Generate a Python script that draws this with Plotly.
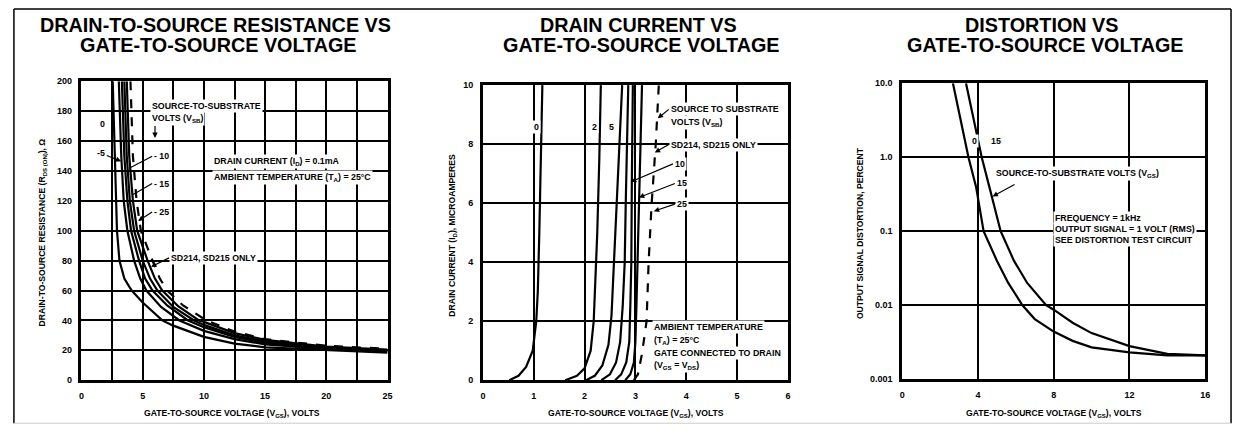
import plotly.graph_objects as go

W, H = 1241, 437
FONT = "Liberation Sans, Arial, DejaVu Sans, sans-serif"

# ---------------- Panel 1: R_DS(ON) vs V_GS ----------------
p1_labels = ["0", "-5", "- 10", "- 15", "- 25"]
p1_vgs_0 = [2.55, 2.7, 2.8, 2.9, 3.1, 3.5, 4.1, 5.0, 6.6, 7.5, 10, 12.5, 15, 20, 25]
p1_rds_0 = [200, 150, 120, 100, 80, 68, 60, 52, 40, 36.5, 29, 24.5, 22, 20, 18.5]
p1_vgs_5 = [3.05, 3.25, 3.45, 3.75, 4.3, 4.8, 5.3, 6.5, 8.0, 10, 12.5, 15, 20, 25]
p1_rds_5 = [200, 150, 120, 100, 80, 68, 60, 49, 40, 33, 27.5, 24, 21, 19]
p1_vgs_10 = [3.3, 3.5, 3.75, 4.05, 4.7, 5.2, 5.8, 7.0, 8.7, 10, 12.5, 15, 20, 25]
p1_rds_10 = [200, 150, 120, 100, 80, 68, 60, 50, 40, 35.5, 29, 25, 21.5, 19.5]
p1_vgs_15 = [3.5, 3.7, 3.95, 4.3, 5.0, 5.6, 6.2, 7.5, 9.2, 10, 12.5, 15, 20, 25]
p1_rds_15 = [200, 150, 120, 100, 80, 68, 60, 49, 40, 37, 30, 26, 22, 20]
p1_vgs_25 = [3.7, 3.9, 4.2, 4.55, 5.4, 6.0, 6.6, 7.9, 9.6, 10, 12.5, 15, 20, 25]
p1_rds_25 = [200, 150, 120, 100, 80, 68, 60, 49.5, 40, 39, 31.5, 27, 22.5, 20.5]
p1_vgs_sd = [4.0, 4.2, 4.5, 4.85, 5.8, 6.4, 7.0, 8.3, 10.2, 12.5, 15, 20, 25]
p1_rds_sd = [200, 150, 120, 100, 80, 68, 60, 50, 40, 32.5, 27.5, 23, 21]
p1_xticks = [0, 5, 10, 15, 20, 25]
p1_yticks = [0, 20, 40, 60, 80, 100, 120, 140, 160, 180, 200]

# ---------------- Panel 2: I_D vs V_GS ----------------
p2_labels = ["0", "2", "5", "10", "15", "25"]
p2_vgs_0 = [0.52, 0.7, 0.85, 0.98, 1.05, 1.08, 1.11, 1.14, 1.17]
p2_id_0 = [0, 0.15, 0.45, 1.0, 2, 3, 5, 7.5, 10]
p2_vgs_2 = [1.62, 1.85, 2.0, 2.12, 2.18, 2.22, 2.25, 2.29, 2.32]
p2_id_2 = [0, 0.15, 0.4, 1.0, 2, 3.5, 5, 7.5, 10]
p2_vgs_5 = [2.03, 2.2, 2.35, 2.47, 2.53, 2.58, 2.63, 2.69, 2.74]
p2_id_5 = [0, 0.15, 0.5, 1.2, 2.2, 4, 6, 8, 10]
p2_vgs_7 = [2.33, 2.5, 2.62, 2.7, 2.75, 2.79, 2.81, 2.84, 2.86]
p2_id_7 = [0, 0.2, 0.6, 1.3, 2.5, 4, 6, 8, 10]
p2_vgs_10 = [2.6, 2.72, 2.82, 2.88, 2.9, 2.92, 2.93, 2.94, 2.95]
p2_id_10 = [0, 0.2, 0.6, 1.3, 2.5, 4, 6.7, 8, 10]
p2_vgs_15 = [2.8, 2.9, 2.97, 3.0, 3.02, 3.04, 3.07, 3.1, 3.13]
p2_id_15 = [0, 0.2, 0.6, 1.3, 2.5, 4, 6.2, 8, 10]
p2_vgs_25 = [2.97, 3.05, 3.13, 3.22, 3.26, 3.32, 3.4, 3.46]
p2_id_25 = [0, 0.2, 0.9, 2, 4, 6, 8, 10]
p2_xticks = [0, 1, 2, 3, 4, 5, 6]
p2_yticks = [0, 2, 4, 6, 8, 10]

# ---------------- Panel 3: Distortion vs V_GS ----------------
p3_labels = ["0", "15"]
p3_vgs_0 = [2.68, 3.0, 3.5, 3.9, 4.3, 5.0, 5.6, 6.35, 7.0, 8, 9, 10, 12, 14, 16]
p3_dist_0 = [10, 4, 1.0, 0.4, 0.1, 0.04, 0.02, 0.01, 0.0065, 0.0044, 0.0033, 0.0027, 0.0023, 0.0021, 0.0021]
p3_vgs_15 = [3.37, 3.7, 4.2, 4.6, 5.2, 5.9, 6.6, 7.6, 8, 9, 10, 12, 14, 16]
p3_dist_15 = [10, 4, 1.0, 0.4, 0.1, 0.04, 0.02, 0.01, 0.0087, 0.0058, 0.0042, 0.0028, 0.0022, 0.0021]
p3_xticks = [0, 4, 8, 12, 16]
p3_yticks = [0.001, 0.01, 0.1, 1, 10]
p3_yticktext = ["0.001", "0.01", "0.1", "1.0", "10.0"]

fig = go.Figure()

def line(x, y, ax, dash="solid", width=2.2):
    fig.add_trace(go.Scatter(x=x, y=y, mode="lines", xaxis="x" + ax, yaxis="y" + ax,
                             line=dict(color="black", width=width, dash=dash),
                             hoverinfo="skip", showlegend=False))

for xs, ys in [(p1_vgs_0, p1_rds_0), (p1_vgs_5, p1_rds_5), (p1_vgs_10, p1_rds_10),
               (p1_vgs_15, p1_rds_15), (p1_vgs_25, p1_rds_25)]:
    line(xs, ys, "")
line(p1_vgs_sd, p1_rds_sd, "", dash="dash")

for xs, ys in [(p2_vgs_0, p2_id_0), (p2_vgs_2, p2_id_2), (p2_vgs_5, p2_id_5),
               (p2_vgs_7, p2_id_7), (p2_vgs_10, p2_id_10), (p2_vgs_15, p2_id_15)]:
    line(xs, ys, "2")
line(p2_vgs_25, p2_id_25, "2", dash="dash")

line(p3_vgs_0, p3_dist_0, "3")
line(p3_vgs_15, p3_dist_15, "3")

def dom_x(a, b):
    return [a / W, b / W]

def dom_y(top, bottom):
    return [1 - bottom / H, 1 - top / H]

tickfont = dict(family=FONT, size=9, color="black", weight="bold")
base = dict(showline=True, mirror=True, linecolor="black", linewidth=2.5,
            showgrid=True, gridcolor="black", gridwidth=1.5, zeroline=False,
            ticks="outside", ticklen=5, tickcolor="rgba(0,0,0,0)",
            tickfont=tickfont, fixedrange=True)

fig.update_layout(
    width=W, height=H, margin=dict(l=0, r=0, t=0, b=0),
    paper_bgcolor="white", plot_bgcolor="white", showlegend=False,
    xaxis=dict(base, domain=dom_x(79, 387), range=[0, 25], tickvals=p1_xticks,
               minor=dict(dtick=2.5, tick0=0, showgrid=True, gridcolor="black", gridwidth=1.5), anchor="y"),
    yaxis=dict(base, domain=dom_y(78, 384), range=[0, 200], tickvals=p1_yticks, anchor="x"),
    xaxis2=dict(base, domain=dom_x(483, 790), range=[0, 6], tickvals=p2_xticks, anchor="y2"),
    yaxis2=dict(base, domain=dom_y(82, 384), range=[0, 10], tickvals=p2_yticks, anchor="x2"),
    xaxis3=dict(base, domain=dom_x(905, 1210), range=[0, 16], tickvals=p3_xticks, anchor="y3"),
    yaxis3=dict(base, domain=dom_y(80, 383), type="log", range=[-3, 1], tickvals=p3_yticks,
                ticktext=p3_yticktext, anchor="x3"),
)

SMALL = 8.8

def txt(s, x, y, size=SMALL, xanchor="left", angle=0, bg="white"):
    fig.add_annotation(text=s, x=x / W, y=1 - y / H, xref="paper", yref="paper",
                       xanchor=xanchor, yanchor="middle", showarrow=False, textangle=angle,
                       font=dict(family=FONT, size=size, color="black", weight="bold"),
                       bgcolor=bg, borderpad=1)

def label_arrow(s, tail, tip, xanchor="left", head=2, size=SMALL):
    fig.add_annotation(text=s, x=tip[0] / W, y=1 - tip[1] / H, xref="paper", yref="paper",
                       ax=tail[0] - tip[0], ay=tail[1] - tip[1], axref="pixel", ayref="pixel",
                       xanchor=xanchor, yanchor="middle",
                       font=dict(family=FONT, size=size, color="black", weight="bold"),
                       bgcolor="white" if s else "rgba(0,0,0,0)", borderpad=1,
                       showarrow=True, arrowhead=head, arrowsize=0.9, arrowwidth=1.2,
                       arrowcolor="black", standoff=0, startstandoff=0)

def seg(x0, y0, x1, y1, color="black", w=1.2):
    fig.add_shape(type="line", xref="paper", yref="paper", x0=x0 / W, y0=1 - y0 / H,
                  x1=x1 / W, y1=1 - y1 / H, line=dict(color=color, width=w))

# Titles
for cx, l1 in [(214, "DRAIN-TO-SOURCE RESISTANCE VS"), (640, "DRAIN CURRENT VS"), (1046, "DISTORTION VS")]:
    txt(l1, cx, 20, size=19.8, xanchor="center", bg="rgba(0,0,0,0)")
    txt("GATE-TO-SOURCE VOLTAGE", cx + 3, 41, size=19.8, xanchor="center", bg="rgba(0,0,0,0)")

# Axis titles
xt = "GATE-TO-SOURCE VOLTAGE (V<sub>GS</sub>), VOLTS"
txt(xt, 230, 418, size=8.6, xanchor="center", bg="rgba(0,0,0,0)")
txt(xt, 637, 418, size=8.6, xanchor="center", bg="rgba(0,0,0,0)")
txt(xt, 1058, 418, size=8.6, xanchor="center", bg="rgba(0,0,0,0)")
txt("DRAIN-TO-SOURCE RESISTANCE (R<sub>DS (ON)</sub>), Ω", 40, 233, size=8.6, xanchor="center", angle=-90, bg="rgba(0,0,0,0)")
txt("DRAIN CURRENT (I<sub>D</sub>), MICROAMPERES", 453, 236, size=8.6, xanchor="center", angle=-90, bg="rgba(0,0,0,0)")
txt("OUTPUT SIGNAL DISTORTION, PERCENT", 862, 233, size=8.6, xanchor="center", angle=-90, bg="rgba(0,0,0,0)")

# Panel 1 annotations
txt("SOURCE-TO-SUBSTRATE", 148, 103)
txt("VOLTS (V<sub>SB</sub>)", 148, 116)
label_arrow("", (153, 124), (153, 136))
txt(p1_labels[0], 100, 122, xanchor="center")
label_arrow(p1_labels[1], (99, 152), (119, 160), xanchor="center")
label_arrow(p1_labels[2], (150, 155), (127, 167), head=0)
label_arrow(p1_labels[3], (150, 183), (131, 194), head=0)
label_arrow(p1_labels[4], (150, 212), (136, 221))
txt("DRAIN CURRENT (I<sub>D</sub>) = 0.1mA", 210, 160)
txt("AMBIENT TEMPERATURE (T<sub>A</sub>) = 25°C", 210, 177)
label_arrow("SD214, SD215 ONLY", (167, 259), (149, 268))

# Panel 2 annotations
txt(p2_labels[0], 537, 125, xanchor="center")
txt(p2_labels[1], 595, 125, xanchor="center")
txt(p2_labels[2], 612, 125, xanchor="center")
label_arrow("SOURCE TO SUBSTRATE", (670, 107), (659, 116))
txt("VOLTS (V<sub>SB</sub>)", 670, 120)
label_arrow("SD214, SD215 ONLY", (670, 143), (656, 151))
label_arrow(p2_labels[3], (674, 163), (632, 181))
label_arrow(p2_labels[4], (676, 183), (640, 197))
label_arrow(p2_labels[5], (676, 204), (655, 211))
txt("AMBIENT TEMPERATURE", 653, 330)
txt("(T<sub>A</sub>) = 25°C", 653, 343)
txt("GATE CONNECTED TO DRAIN", 653, 356)
txt("(V<sub>GS</sub> = V<sub>DS</sub>)", 653, 369)

# Panel 3 annotations
txt(p3_labels[0], 978, 139, xanchor="center")
txt(p3_labels[1], 999, 139, xanchor="center")
txt("SOURCE-TO-SUBSTRATE VOLTS (V<sub>GS</sub>)", 997, 172)
label_arrow("", (1018, 184), (996, 196))
txt("FREQUENCY = 1kHz", 1057, 218)
txt("OUTPUT SIGNAL = 1 VOLT (RMS)", 1057, 229)
txt("SEE DISTORTION TEST CIRCUIT", 1057, 240)

# Outer frame
seg(11, 4, 1236, 4, w=1.5)
seg(11, 4, 11, 428, w=1.5)
seg(1236, 4, 1236, 428, w=1.5)
seg(11, 428, 1236, 428, color="#cccccc", w=1)

fig.write_html("out.html", config={"displayModeBar": False},
               post_script="document.body.style.margin='0px';")
